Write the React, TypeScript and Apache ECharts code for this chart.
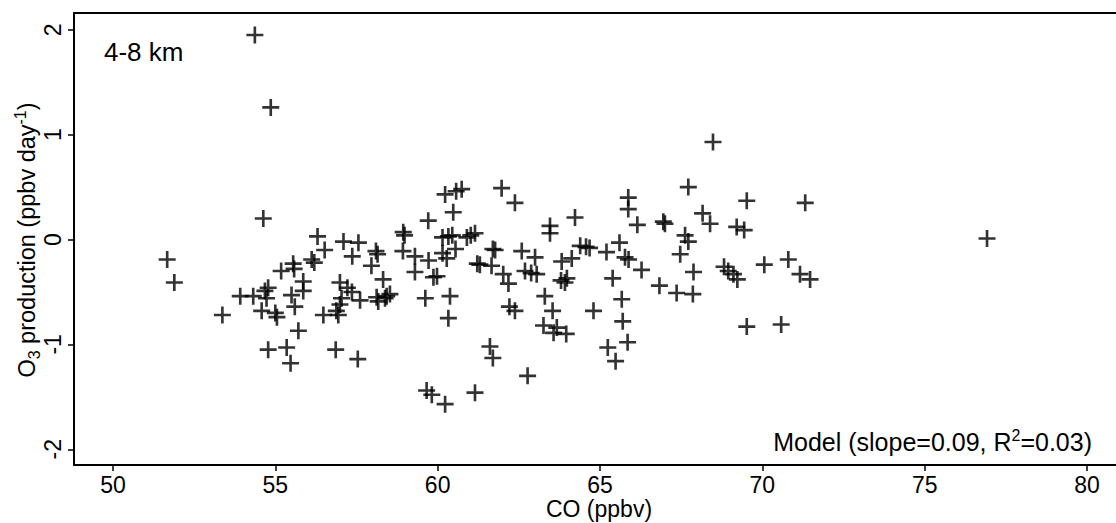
import React, { useEffect, useRef } from "react";
import * as echarts from "echarts";

const xTicks = [50, 55, 60, 65, 70, 75, 80];
const yTicks = [-2, -1, 0, 1, 2];

const coValues = [
  51.67, 51.89, 53.37, 53.92, 54.32, 54.63, 54.68, 54.78, 54.73, 54.58,
  55.0, 55.05, 54.78, 55.35, 55.47, 55.71, 55.6, 55.5, 55.18, 55.55,
  55.58, 55.86, 55.86, 56.12, 56.2, 56.3, 56.52, 57.1, 57.56, 57.37,
  58.1, 58.15, 57.96, 58.32, 56.99, 57.22, 57.36, 57.04, 57.61, 56.99,
  56.88, 56.48, 56.94, 56.86, 57.54, 58.12, 58.17, 58.43, 58.53,
  54.37, 54.86, 68.48,
  60.74, 60.23, 60.57, 61.97, 62.38, 60.48, 59.71, 65.87, 65.87, 66.15,
  63.46, 63.46, 64.23, 58.94, 58.98, 60.15, 60.33, 60.45, 60.9, 61.02,
  61.15, 60.55, 60.15, 60.28, 58.93, 59.3, 59.72, 59.3, 59.87, 59.98,
  58.38, 59.62, 60.38, 60.33, 61.77, 61.7, 61.22, 61.3, 61.66, 62.02,
  62.18, 62.59, 63.0, 62.69, 62.88, 63.05, 63.82, 64.13, 63.8, 63.92,
  63.98, 64.39, 64.57, 64.68, 65.2, 65.6, 65.77, 65.88, 65.39, 65.67,
  65.7, 65.85, 65.24, 65.48, 64.8, 63.3, 63.54, 62.21, 62.38, 63.26,
  63.67, 63.57, 63.96, 61.61, 61.7, 62.77, 59.66, 59.82, 60.23, 61.15,
  67.72, 69.52, 71.32, 68.16, 68.39, 66.95, 67.0, 69.21, 69.44, 67.62,
  67.72, 67.47, 67.88, 66.28, 66.83, 67.36, 67.86, 68.82, 68.95, 69.11,
  69.23, 70.06, 70.8, 71.16, 71.47, 69.52, 70.58, 76.92,
];

const o3Values = [
  -0.19, -0.41, -0.72, -0.54, -0.54, 0.2, -0.49, -0.46, -0.56, -0.68,
  -0.7, -0.74, -1.05, -1.03, -1.18, -0.87, -0.64, -0.53, -0.3, -0.23,
  -0.28, -0.4, -0.49, -0.19, -0.22, 0.03, -0.1, -0.02, -0.03, -0.16,
  -0.11, -0.14, -0.25, -0.38, -0.41, -0.46, -0.5, -0.56, -0.58, -0.62,
  -0.68, -0.72, -0.72, -1.05, -1.14, -0.55, -0.59, -0.54, -0.52,
  1.95, 1.26, 0.93,
  0.48, 0.43, 0.46, 0.49, 0.35, 0.26, 0.18, 0.4, 0.29, 0.14,
  0.13, 0.06, 0.21, 0.07, 0.04, 0.02, 0.03, 0.04, 0.02, 0.04,
  0.06, -0.09, -0.13, -0.18, -0.11, -0.16, -0.2, -0.31, -0.36, -0.35,
  -0.56, -0.56, -0.54, -0.75, -0.1, -0.09, -0.23, -0.24, -0.25, -0.33,
  -0.42, -0.11, -0.17, -0.3, -0.32, -0.33, -0.21, -0.18, -0.39, -0.41,
  -0.37, -0.06, -0.07, -0.08, -0.12, -0.03, -0.17, -0.19, -0.37, -0.57,
  -0.78, -0.98, -1.03, -1.16, -0.68, -0.54, -0.68, -0.64, -0.68, -0.82,
  -0.84, -0.89, -0.9, -1.02, -1.13, -1.3, -1.44, -1.48, -1.57, -1.46,
  0.5, 0.37, 0.35, 0.25, 0.15, 0.17, 0.15, 0.12, 0.09, 0.04,
  -0.02, -0.14, -0.31, -0.29, -0.44, -0.51, -0.52, -0.26, -0.3, -0.33,
  -0.38, -0.24, -0.19, -0.33, -0.38, -0.83, -0.81, 0.01,
];

const FONT = "'Liberation Sans', Arial, Helvetica, sans-serif";

export default function App() {
  const ref = useRef<HTMLDivElement>(null);

  useEffect(() => {
    document.body.style.margin = "0";
    if (!ref.current) return;
    const chart = echarts.init(ref.current, null, { renderer: "svg" });
    const points = coValues.map((c, i) => [c, o3Values[i]]);
    const plus = "path://M0,7.6H7.6V0H10.4V7.6H18V10.4H10.4V18H7.6V10.4H0Z";
    const boxLine = { show: true, onZero: false, lineStyle: { color: "#000", width: 2 } };

    chart.setOption({
      animation: false,
      backgroundColor: "#fff",
      grid: {
        left: 74,
        right: -10,
        top: 13,
        bottom: 58,
        show: false,
        outerBoundsMode: "none",
        containLabel: false,
      },
      xAxis: [
        {
          type: "value",
          position: "bottom",
          min: 48.8,
          max: 81.2,
          splitLine: { show: false },
          axisLine: boxLine,
          axisTick: {
            show: true,
            length: 6,
            customValues: xTicks,
            lineStyle: { color: "#000", width: 1.5 },
          },
          axisLabel: {
            customValues: xTicks,
            margin: 8,
            fontSize: 23,
            fontFamily: FONT,
            color: "#000",
          },
        },
        {
          type: "value",
          position: "top",
          min: 48.8,
          max: 81.2,
          splitLine: { show: false },
          axisLine: boxLine,
          axisTick: { show: false },
          axisLabel: { show: false },
        },
      ],
      yAxis: {
        type: "value",
        min: -2.15,
        max: 2.16,
        splitLine: { show: false },
        axisLine: boxLine,
        axisTick: {
          show: true,
          length: 6,
          customValues: yTicks,
          lineStyle: { color: "#000", width: 1.5 },
        },
        axisLabel: {
          customValues: yTicks,
          rotate: 90,
          margin: 10,
          fontSize: 23,
          fontFamily: FONT,
          color: "#000",
        },
      },
      series: [
        {
          type: "scatter",
          xAxisIndex: 0,
          data: points,
          symbol: plus,
          symbolSize: 17,
          itemStyle: { color: "#000" },
          clip: false,
        },
      ],
      graphic: [
        {
          type: "text",
          x: 104,
          y: 52,
          style: {
            text: "4-8 km",
            fontSize: 26,
            fontFamily: FONT,
            fill: "#000",
            align: "left",
            verticalAlign: "middle",
          },
        },
        {
          type: "text",
          x: 1092,
          y: 442,
          style: {
            text: "{n|Model (slope=0.09, R}{sup|2}{n|=0.03)}",
            align: "right",
            verticalAlign: "middle",
            fill: "#000",
            fontFamily: FONT,
            rich: {
              n: { fontSize: 25, fontFamily: FONT, lineHeight: 30, fill: "#000" },
              sup: { fontSize: 16, fontFamily: FONT, verticalAlign: "top", fill: "#000" },
            },
          },
        },
        {
          type: "text",
          x: 599,
          y: 509,
          style: {
            text: "CO (ppbv)",
            fontSize: 23,
            fontFamily: FONT,
            fill: "#000",
            align: "center",
            verticalAlign: "middle",
          },
        },
        {
          type: "text",
          x: 27,
          y: 240,
          rotation: Math.PI / 2,
          style: {
            text: "{n|O}{sub|3}{n| production (ppbv day}{sup|-1}{n|)}",
            align: "center",
            verticalAlign: "middle",
            fill: "#000",
            fontFamily: FONT,
            rich: {
              n: { fontSize: 23.5, fontFamily: FONT, lineHeight: 30, fill: "#000" },
              sub: { fontSize: 16, fontFamily: FONT, verticalAlign: "bottom", fill: "#000" },
              sup: { fontSize: 16, fontFamily: FONT, verticalAlign: "top", fill: "#000" },
            },
          },
        },
      ],
    });

    return () => chart.dispose();
  }, []);

  return (
    <div
      ref={ref}
      style={{ position: "absolute", left: 0, top: 0, width: 1116, height: 523 }}
    />
  );
}
